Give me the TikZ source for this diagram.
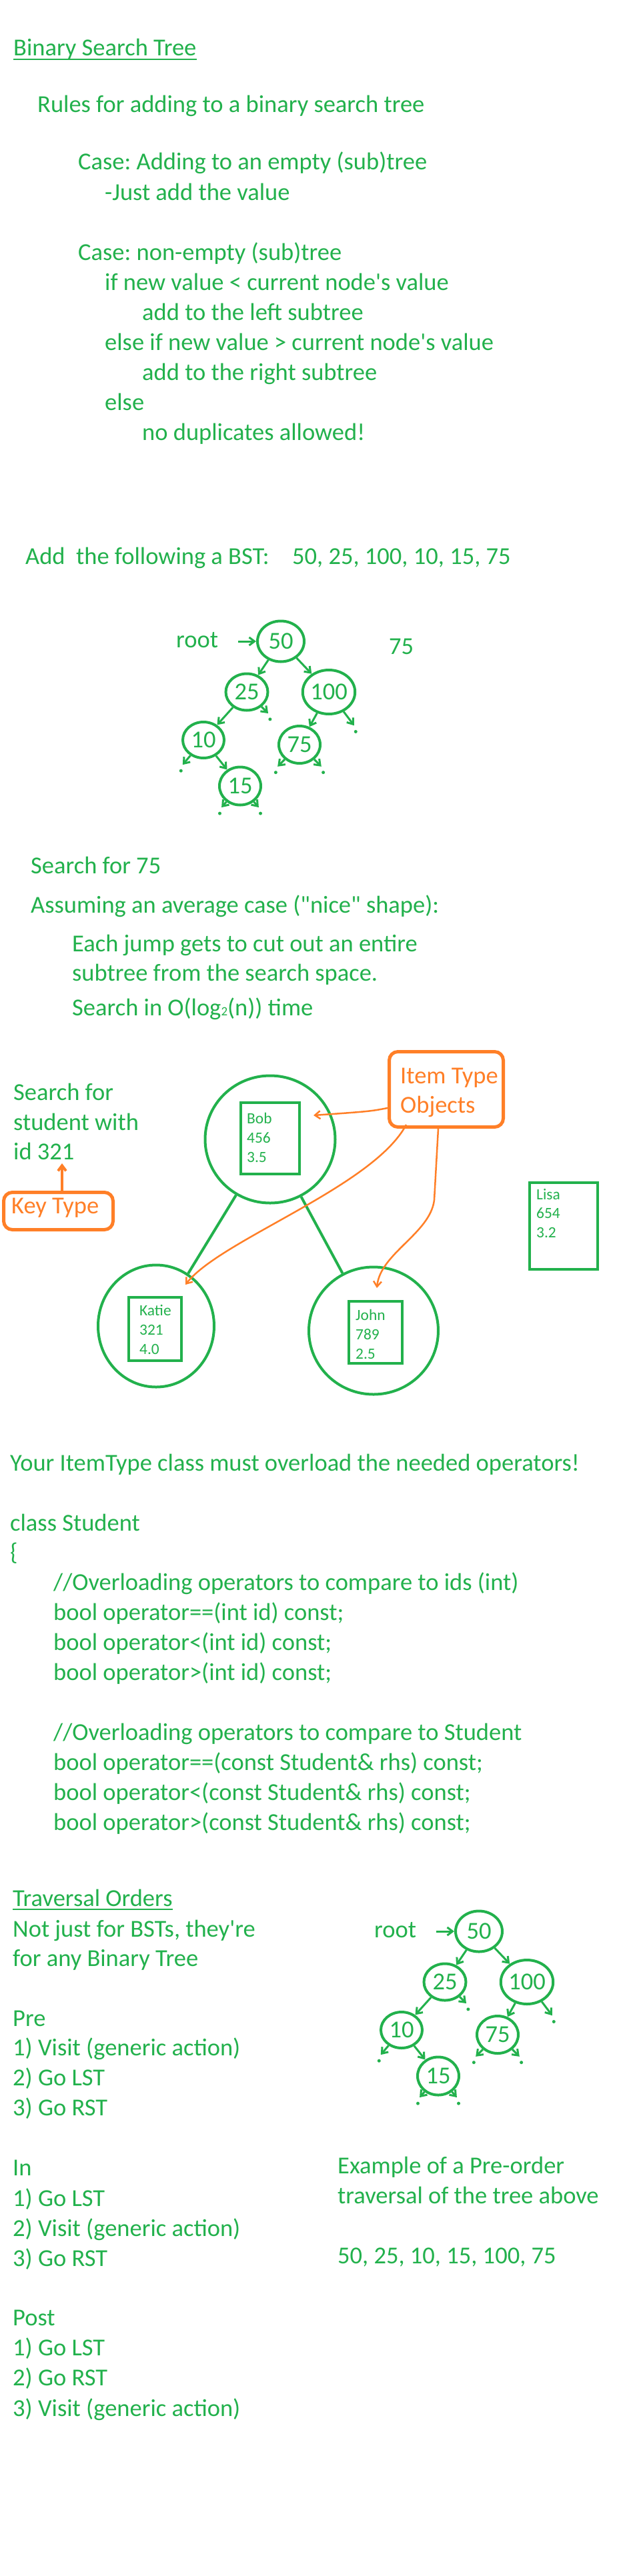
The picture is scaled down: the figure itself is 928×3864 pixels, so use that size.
\documentclass[tikz,border=0pt]{standalone}
\usepackage{fontspec}
\setmainfont{Carlito}
\usetikzlibrary{shapes.geometric,arrows.meta,positioning}
\frenchspacing

\definecolor{bstgreen}{RGB}{34,177,76}
\definecolor{bstorange}{RGB}{255,127,39}
\newcommand{\bigfont}{\fontsize{36.5}{45}\selectfont}
\newcommand{\recfont}{\fontsize{23.4}{29}\selectfont}
\newcommand{\smalltwo}{{\fontsize{19}{19}\selectfont 2}}

% tree of the example, #1 = name prefix, (#2,#3) = centre of the root
\newcommand{\bsttree}[3]{%
  \begin{scope}[shift={(#2,#3)}]
    \node[tnode, minimum width=70pt, minimum height=61pt] (#1n50) at (0,0) {50};
    \node[tnode, minimum width=63pt, minimum height=55pt] (#1n25) at (-51,76) {25};
    \node[tnode, minimum width=76pt, minimum height=66pt] (#1n100) at (72,76) {100};
    \node[tnode, minimum width=62pt, minimum height=54pt] (#1n10) at (-116,148) {10};
    \node[tnode, minimum width=62pt, minimum height=56pt] (#1n75) at (28,155) {75};
    \node[tnode, minimum width=62pt, minimum height=57pt] (#1n15) at (-61,217) {15};

    \node[txt] (#1root) at (-157,9) {root};
    \coordinate (#1rootA) at (-64,0);
    \draw[tarrow] (#1rootA) -- (#1n50);

    \draw[tarrow] (#1n50) -- (#1n25);
    \draw[tarrow] (#1n50) -- (#1n100);
    \draw[tarrow] (#1n25) -- (#1n10);
    \draw[tarrow] (#1n100) -- (#1n75);
    \draw[tarrow] (#1n10) -- (#1n15);

    % -- empty children --
    \foreach \n/\a/\len in {n25/-45/14, n100/-53/26, n10/-130/18, n75/-135/15,
                            n75/-45/15, n15/-131/11, n15/-49/11} {
      \draw[tarrow] (#1\n.\a) -- ++(\a:\len pt) coordinate (#1\n end);
      \fill[bstgreen] (#1\n end) ++(\a:4pt) ++(0,6) circle (2.5pt);
    }
  \end{scope}}

\begin{document}
\begin{tikzpicture}[x=1pt, y=-1pt,
  >={Straight Barb[length=8pt,width=12pt]},
  txt/.style={anchor=base west, inner sep=0pt, text=bstgreen, font=\bigfont},
  otxt/.style={txt, text=bstorange},
  rec/.style={txt, font=\recfont},
  tnode/.style={ellipse, draw=bstgreen, line width=4pt, inner sep=0pt, text=bstgreen, font=\bigfont},
  bignode/.style={ellipse, draw=bstgreen, line width=4pt, inner sep=0pt},
  recbox/.style={rectangle, draw=bstgreen, line width=4pt, inner sep=0pt},
  obox/.style={rectangle, draw=bstorange, line width=5pt, rounded corners=13pt, inner sep=0pt},
  tarrow/.style={->, draw=bstgreen, line width=3pt},
  oarrow/.style={->, draw=bstorange, line width=2.5pt},
  karrow/.style={->, draw=bstorange, line width=4pt},
  link/.style={draw=bstgreen, line width=4pt}
]
  \path[use as bounding box, fill=white] (0,0) rectangle (928,3864);

  % -- Rules for adding --
  \node[txt] (title) at (20,84) {Binary Search Tree};
  \draw[bstgreen, line width=2pt] ([yshift=-5pt]title.base west) -- ([yshift=-5pt]title.base east);
  \node[txt] (rules) at (56,169) {Rules for adding to a binary search tree};
  \node[txt] (case1) at (117,255) {Case: Adding to an empty (sub)tree};
  \node[txt] (just) at (157,300) {-Just add the value};
  \node[txt] (case2) at (117,390) {Case: non-empty (sub)tree};
  \node[txt] (ifless) at (157,435) {if new value < current node\textquotesingle s value};
  \node[txt] (addleft) at (213,480) {add to the left subtree};
  \node[txt] (ifmore) at (157,525) {else if new value > current node\textquotesingle s value};
  \node[txt] (addright) at (213,570) {add to the right subtree};
  \node[txt] (else) at (157,615) {else};
  \node[txt] (nodup) at (213,660) {no duplicates allowed!};

  % -- Adding example --
  \node[txt] (addline) at (38,846) {Add\ \ the following a BST:};
  \node[txt] (addseq) at (438,846) {50, 25, 100, 10, 15, 75};
  \bsttree{a}{421}{962}
  \node[txt] (next75) at (583,981) {75};

  % -- Search --
  \node[txt] (search75) at (46,1310) {Search for 75};
  \node[txt] (assume) at (46,1369) {Assuming an average case (\textquotedbl nice\textquotedbl\ shape):};
  \node[txt] (jump1) at (108,1427) {Each jump gets to cut out an entire};
  \node[txt] (jump2) at (108,1471) {subtree from the search space.};
  \node[txt] (logn) at (108,1523) {Search in O(log\smalltwo(n)) time};

  % -- Students in a tree --
  \node[bignode, minimum width=195pt, minimum height=191pt] (bob) at (405,1709) {};
  \node[bignode, minimum width=174pt, minimum height=183pt] (katie) at (234,1989) {};
  \node[bignode, minimum width=194pt, minimum height=191pt] (john) at (560,1996) {};
  \draw[link] (bob) -- (katie);
  \draw[link] (bob) -- (john);

  \node[recbox, minimum width=88pt, minimum height=107pt] (bobbox) at (405,1707.5) {};
  \node[recbox, minimum width=79pt, minimum height=95pt] (katiebox) at (232.5,1993.5) {};
  \node[recbox, minimum width=80pt, minimum height=93pt] (johnbox) at (563,1998.5) {};
  \node[recbox, minimum width=102pt, minimum height=130pt] (lisabox) at (845,1839) {};
  \foreach \t [count=\i] in {Bob,456,3.5}
    \node[rec] (bob\i) at (370,{1685+29*(\i-1)}) {\t};
  \foreach \t [count=\i] in {Katie,321,4.0}
    \node[rec] (katie\i) at (209,{1973+29*(\i-1)}) {\t};
  \foreach \t [count=\i] in {John,789,2.5}
    \node[rec] (john\i) at (533,{1980+29*(\i-1)}) {\t};
  \foreach \t [count=\i] in {Lisa,654,3.2}
    \node[rec] (lisa\i) at (804,{1799+28.5*(\i-1)}) {\t};

  \node[txt] (sfor1) at (20,1650) {Search for};
  \node[txt] (sfor2) at (20,1695) {student with};
  \node[txt] (sfor3) at (20,1739) {id 321};

  % -- Key and item labels --
  \node[obox, minimum width=164pt, minimum height=56pt] (keybox) at (87.5,1816.5) {};
  \node[otxt] (keytext) at (17,1820) {Key Type};
  \coordinate (keytip) at (93,1745);
  \draw[karrow] (keybox.north -| keytip) -- (keytip);

  \node[obox, minimum width=171pt, minimum height=113pt] (itembox) at (669,1634) {};
  \node[otxt] (item1) at (600,1625) {Item Type};
  \node[otxt] (item2) at (600,1669) {Objects};

  \coordinate (bobtip) at (470,1673);
  \coordinate (katietip) at (278,1927);
  \coordinate (johnbend) at (651,1800);
  \coordinate (johntip) at (565,1932);
  \draw[oarrow] ([yshift=-28pt]itembox.west) .. controls (555,1667) .. (bobtip);
  \draw[oarrow] ([xshift=-60pt,yshift=6pt]itembox.south) .. controls (560,1780) and (330,1860) .. (katietip);
  \draw[oarrow] ([xshift=-12pt]itembox.south) -- (johnbend) .. controls (645,1850) and (570,1880) .. (johntip);

  % -- ItemType class --
  \node[txt] (must) at (15,2206) {Your ItemType class must overload the needed operators!};
  \node[txt] (cls) at (15,2296) {class Student};
  \node[txt] (brace) at (15,2340) {\{};
  \node[txt] (cmt1) at (80,2385) {//Overloading operators to compare to ids (int)};
  \node[txt] (opa1) at (80,2430) {bool operator==(int id) const;};
  \node[txt] (opa2) at (80,2475) {bool operator<(int id) const;};
  \node[txt] (opa3) at (80,2520) {bool operator>(int id) const;};
  \node[txt] (cmt2) at (80,2610) {//Overloading operators to compare to Student};
  \node[txt] (opb1) at (80,2655) {bool operator==(const Student\& rhs) const;};
  \node[txt] (opb2) at (80,2700) {bool operator<(const Student\& rhs) const;};
  \node[txt] (opb3) at (80,2745) {bool operator>(const Student\& rhs) const;};

  % -- Traversal orders --
  \node[txt] (trav) at (19,2859) {Traversal Orders};
  \draw[bstgreen, line width=2pt] ([yshift=-5pt]trav.base west) -- ([yshift=-5pt]trav.base east);
  \node[txt] (notjust1) at (19,2905) {Not just for BSTs, they\textquotesingle re};
  \node[txt] (notjust2) at (19,2949) {for any Binary Tree};

  \node[txt] (pre) at (19,3039) {Pre};
  \node[txt] (pre1) at (19,3083) {1) Visit (generic action)};
  \node[txt] (pre2) at (19,3128) {2) Go LST};
  \node[txt] (pre3) at (19,3173) {3) Go RST};

  \node[txt] (in) at (19,3263) {In};
  \node[txt] (in1) at (19,3309) {1) Go LST};
  \node[txt] (in2) at (19,3354) {2) Visit (generic action)};
  \node[txt] (in3) at (19,3399) {3) Go RST};

  \node[txt] (post) at (19,3488) {Post};
  \node[txt] (post1) at (19,3533) {1) Go LST};
  \node[txt] (post2) at (19,3578) {2) Go RST};
  \node[txt] (post3) at (19,3624) {3) Visit (generic action)};

  \bsttree{b}{718}{2897}
  \node[txt] (example1) at (506,3260) {Example of a Pre-order};
  \node[txt] (example2) at (506,3305) {traversal of the tree above};
  \node[txt] (preseq) at (506,3395) {50, 25, 10, 15, 100, 75};

\end{tikzpicture}
\end{document}
